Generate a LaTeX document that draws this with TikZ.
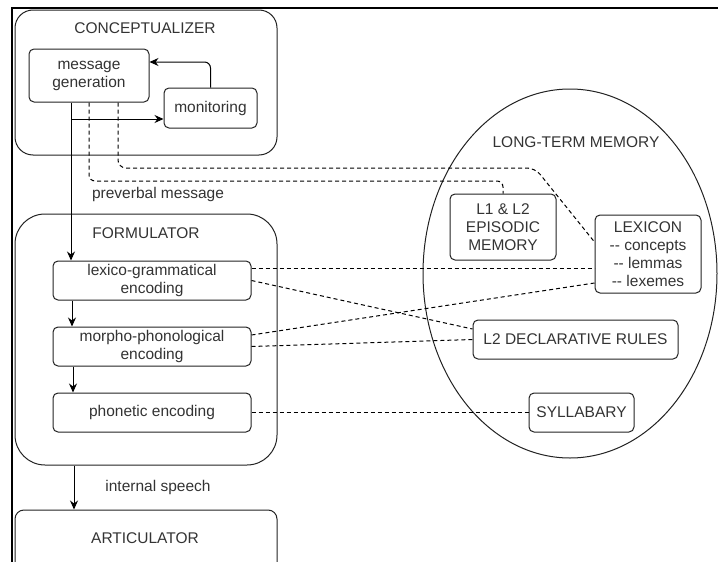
\documentclass[tikz,border=0pt]{standalone}
\usepackage{fontspec}
\setmainfont{Liberation Sans}
\usetikzlibrary{arrows.meta,calc}
\definecolor{txt}{HTML}{333333}
\definecolor{ln}{HTML}{222222}
\begin{document}
\begin{tikzpicture}[x=1pt,y=-1pt,
  every node/.style={font=\fontsize{15.5}{18}\selectfont, text=txt, inner sep=0pt, align=center},
  box/.style={draw=ln, line width=1pt, rounded corners=5pt},
  bigbox/.style={draw=ln, line width=1pt},
  arr/.style={draw=black, line width=1pt, -{Stealth[length=9pt,width=8pt]}},
  dsh/.style={draw=black, line width=1pt, dash pattern=on 4pt off 3pt}]
\useasboundingbox (0,0) rectangle (718,562);
\clip (0,0) rectangle (718,562);
% frame
\draw[line width=2.5pt] (12,565) -- (12,8) -- (721,8);
% conceptualizer
\node[bigbox, rounded corners=18pt, minimum width=262pt, minimum height=145pt] (concept) at (146,82.5) {};
\node (conceptT) at (145,28) {CONCEPTUALIZER};
\node[box, minimum width=120pt, minimum height=53pt] (msg) at (89,75.5) {message\\generation};
\node[box, minimum width=93pt, minimum height=40pt] (mon) at (210.5,108) {monitoring};
% formulator
\node[bigbox, rounded corners=30pt, minimum width=262pt, minimum height=251pt] (form) at (146,339.5) {};
\node (formT) at (146,233) {FORMULATOR};
\node[box, minimum width=198pt, minimum height=39pt] (lex) at (152,280.5) {lexico-grammatical\\encoding};
\node[box, minimum width=198pt, minimum height=39pt] (morph) at (152,346.5) {morpho-phonological\\encoding};
\node[box, minimum width=198pt, minimum height=39pt] (phon) at (152,412.5) {phonetic encoding};
% articulator
\node[bigbox, rounded corners=9pt, minimum width=262pt, minimum height=80pt] (artic) at (146,550) {};
\node (articT) at (145,538) {ARTICULATOR};
% labels
\node (prev) at (158,194) {preverbal message};
\node (intsp) at (158,487) {internal speech};
% long-term memory
\draw[ln, line width=1pt] (570,273.5) ellipse [x radius=147pt, y radius=184.5pt];
\node (ltm) at (576,142) {LONG-TERM MEMORY};
\node[box, minimum width=106pt, minimum height=66pt] (epi) at (503,227) {L1 \& L2\\EPISODIC\\MEMORY};
\node[box, minimum width=106pt, minimum height=78pt] (lexicon) at (648,254) {LEXICON\\-{}- concepts\\-{}- lemmas\\-{}- lexemes};
\node[box, minimum width=205pt, minimum height=39pt] (decl) at (575.5,339.5) {L2 DECLARATIVE RULES};
\node[box, minimum width=105pt, minimum height=39pt] (syl) at (581.5,412.5) {SYLLABARY};
% solid arrows
\coordinate (mgx) at ([xshift=-18pt]msg.south);
\coordinate (monin) at ([yshift=-11pt]mon.west);
\draw[arr] (mgx) -- (mgx |- lex.north);
\draw[arr] (mgx |- monin) -- (monin);
\draw[arr, rounded corners=6pt] (mon.north) |- ([yshift=13.5pt]msg.east);
\draw[arr] ([xshift=-80pt]lex.south) -- ([xshift=-80pt]morph.north);
\draw[arr] ([xshift=-79pt]morph.south) -- ([xshift=-79pt]phon.north);
\draw[arr] ([xshift=-72pt]form.south) -- ([xshift=-72pt]form.south |- artic.north);
% dashed connectors
\draw[dsh, rounded corners=6pt] (msg.south) |- (epi.north |- 0,181) -- (epi.north);
\draw[dsh, rounded corners=8pt] ([xshift=29pt]msg.south) |- (535,168) -- ([yshift=12pt]lexicon.west);
\draw[dsh] ([yshift=12.5pt]lex.east) -- ([yshift=12.5pt]lex.east -| lexicon.west);
\draw[dsh] (lex.east) -- ([yshift=10.5pt]decl.west);
\draw[dsh] ([yshift=11.5pt]morph.east) -- ([yshift=-29pt]lexicon.west);
\draw[dsh] (morph.east) -- (decl.west);
\draw[dsh] (phon.east) -- (syl.west);
\end{tikzpicture}
\end{document}
